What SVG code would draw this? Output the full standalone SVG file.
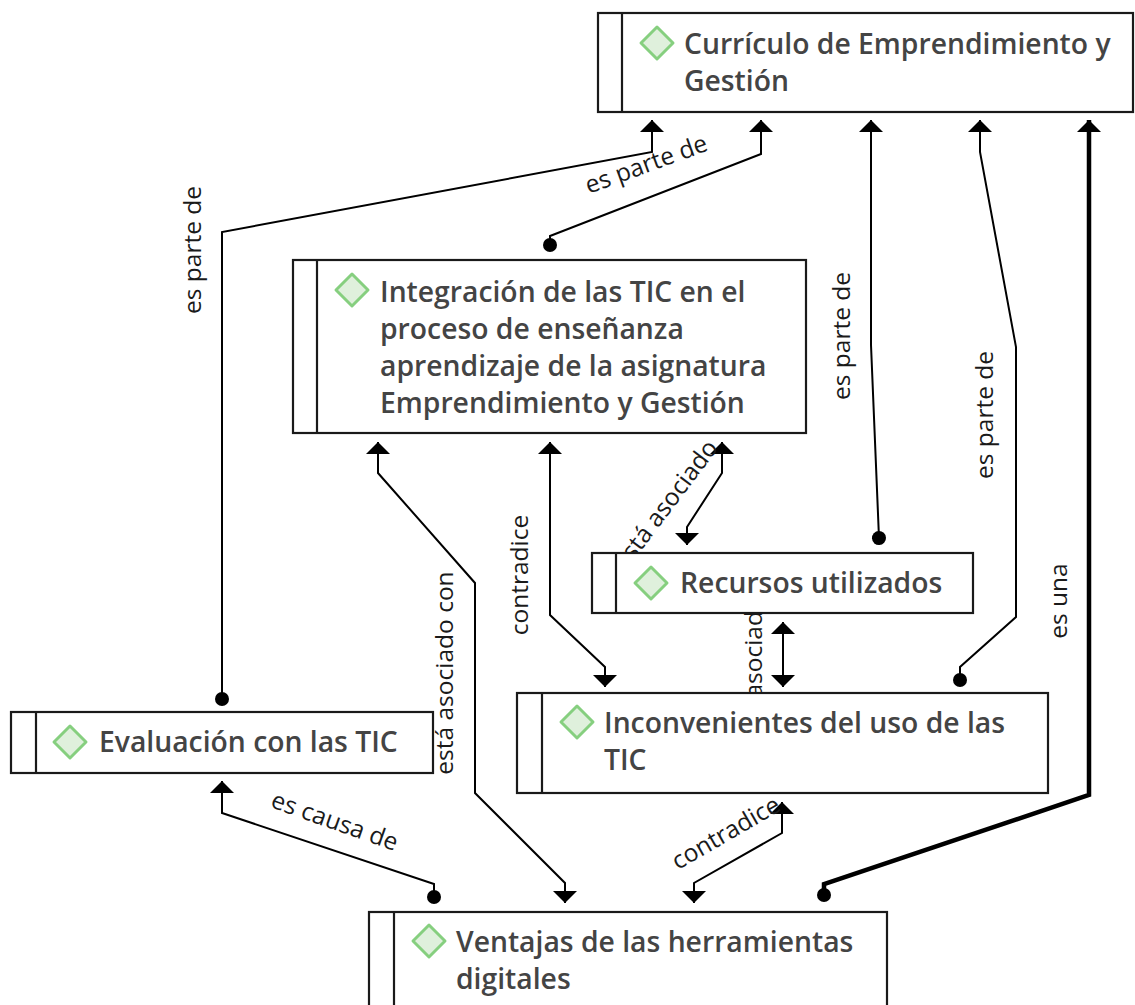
<svg xmlns="http://www.w3.org/2000/svg" width="1135" height="1005" viewBox="0 0 1135 1005">
<style>
.bg{fill:#ffffff}
.box{fill:#ffffff;stroke:#1a1a1a;stroke-width:2.2}
.bar{stroke:#1a1a1a;stroke-width:2.2}
.ico{fill:#dff0dc;stroke:#86cf7f;stroke-width:3;stroke-linejoin:round}
.nt{font-family:"Open Sans","Noto Sans",sans-serif;font-weight:600;font-size:28.3px;fill:#444444}
.ln{fill:none;stroke:#000000;stroke-width:2;stroke-linejoin:miter}
.thick{stroke-width:4.5}
.lb{font-family:"Open Sans","Noto Sans",sans-serif;font-size:24.5px;fill:#1a1a1a;text-anchor:middle}
</style>
<defs>
<marker id="arr" markerUnits="userSpaceOnUse" viewBox="-12 -13 13 26" refX="0" refY="0" markerWidth="13" markerHeight="26" orient="auto-start-reverse">
<path d="M-12,-12 L0,0 L-12,12 z" fill="#000"/>
</marker>
<marker id="dot" markerUnits="userSpaceOnUse" viewBox="-8 -8 16 16" refX="0" refY="0" markerWidth="16" markerHeight="16" orient="auto">
<circle cx="0" cy="0" r="7" fill="#000"/>
</marker>
</defs>
<rect class="bg" x="0" y="0" width="1135" height="1005"/>
<g id="connectors">
<path class="ln" d="M222,699 L222,232 L652,152 L652,120" marker-start="url(#dot)" marker-end="url(#arr)"/>
<path class="ln" d="M550,245 L550,236 L761,154 L761,120" marker-start="url(#dot)" marker-end="url(#arr)"/>
<path class="ln" d="M879,538 L871,345 L871,120" marker-start="url(#dot)" marker-end="url(#arr)"/>
<path class="ln" d="M960,680 L960,667 L1016,617 L1016,347 L980,152 L980,120" marker-start="url(#dot)" marker-end="url(#arr)"/>
<path class="ln thick" d="M824,895 L824,884 L1089,795 L1089,120" marker-start="url(#dot)" marker-end="url(#arr)"/>
<path class="ln" d="M434,897 L434,884 L222,813 L222,781" marker-start="url(#dot)" marker-end="url(#arr)"/>
<path class="ln" d="M378,442 L378,473 L475,583 L475,793 L565,883 L565,903" marker-start="url(#arr)" marker-end="url(#arr)"/>
<path class="ln" d="M550,442 L550,615 L605,667 L605,687" marker-start="url(#arr)" marker-end="url(#arr)"/>
<path class="ln" d="M722,442 L722,473 L687,527 L687,545" marker-start="url(#arr)" marker-end="url(#arr)"/>
<path class="ln" d="M783,622 L783,687" marker-start="url(#arr)" marker-end="url(#arr)"/>
<path class="ln" d="M782,802 L782,833 L694,883 L694,903" marker-start="url(#arr)" marker-end="url(#arr)"/>
<text class="lb" transform="translate(201,250) rotate(-90)">es parte de</text>
<text class="lb" transform="translate(649,172) rotate(-20)">es parte de</text>
<text class="lb" transform="translate(850,336) rotate(-90)">es parte de</text>
<text class="lb" transform="translate(993,415) rotate(-90)">es parte de</text>
<text class="lb" transform="translate(1067,601) rotate(-90)">es una</text>
<text class="lb" transform="translate(332,829) rotate(19.5)">es causa de</text>
<text class="lb" transform="translate(453,673) rotate(-90)">está asociado con</text>
<text class="lb" transform="translate(528,575) rotate(-90)">contradice</text>
<text class="lb" transform="translate(672,510) rotate(-53)">está asociado</text>
<text class="lb" transform="translate(762,674) rotate(-90)">está asociado</text>
<text class="lb" transform="translate(730,840) rotate(-30)">contradice</text>
</g>
<g id="n-curriculo">
<rect class="box" x="598" y="13" width="535" height="99"/>
<line class="bar" x1="622" y1="13" x2="622" y2="112"/>
<polygon class="ico" points="657,27 673,43 657,59 641,43"/>
<text class="nt" x="684" y="54">Currículo de Emprendimiento y</text>
<text class="nt" x="684" y="91">Gestión</text>
</g>
<g id="n-integracion">
<rect class="box" x="293" y="260" width="513" height="173"/>
<line class="bar" x1="317" y1="260" x2="317" y2="433"/>
<polygon class="ico" points="352,274 368,290 352,306 336,290"/>
<text class="nt" x="380" y="302">Integración de las TIC en el</text>
<text class="nt" x="380" y="339">proceso de enseñanza</text>
<text class="nt" x="380" y="376">aprendizaje de la asignatura</text>
<text class="nt" x="380" y="413">Emprendimiento y Gestión</text>
</g>
<g id="n-recursos">
<rect class="box" x="592" y="553" width="381" height="60"/>
<line class="bar" x1="616" y1="553" x2="616" y2="613"/>
<polygon class="ico" points="651,567 667,583 651,599 635,583"/>
<text class="nt" x="680" y="593">Recursos utilizados</text>
</g>
<g id="n-inconvenientes">
<rect class="box" x="517" y="693" width="531" height="100"/>
<line class="bar" x1="542" y1="693" x2="542" y2="793"/>
<polygon class="ico" points="577,706 593,722 577,738 561,722"/>
<text class="nt" x="604" y="733">Inconvenientes del uso de las</text>
<text class="nt" x="604" y="770">TIC</text>
</g>
<g id="n-evaluacion">
<rect class="box" x="11" y="712" width="422" height="61"/>
<line class="bar" x1="36" y1="712" x2="36" y2="773"/>
<polygon class="ico" points="70,726 86,742 70,758 54,742"/>
<text class="nt" x="99" y="752">Evaluación con las TIC</text>
</g>
<g id="n-ventajas">
<rect class="box" x="369" y="912" width="518" height="100"/>
<line class="bar" x1="394" y1="912" x2="394" y2="1012"/>
<polygon class="ico" points="429,925 445,941 429,957 413,941"/>
<text class="nt" x="456" y="952">Ventajas de las herramientas</text>
<text class="nt" x="456" y="989">digitales</text>
</g>
</svg>
